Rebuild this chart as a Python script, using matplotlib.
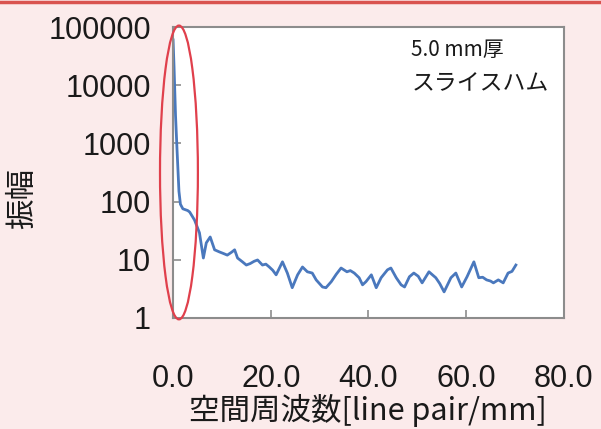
import matplotlib
matplotlib.use('Agg')
import matplotlib.pyplot as plt
from matplotlib.patches import Ellipse
from matplotlib.lines import Line2D

# spatial frequency [line pair/mm] and amplitude
freq = [0.0, 0.2, 0.5, 0.8, 1.2, 1.5, 2.0, 3.0, 3.4, 4.4, 5.4, 6.2, 6.8, 7.6, 8.5, 9.5,
        10.3, 11.1, 12.0, 12.6, 13.2, 14.2, 15.0, 15.8, 16.6, 17.3, 18.3, 19.0, 19.7,
        20.4, 21.1, 22.4, 23.4, 24.4, 25.5, 26.5, 27.5, 28.5, 29.3, 30.6, 31.3, 32.4,
        33.4, 34.4, 35.6, 36.3, 37.1, 38.1, 38.8, 39.5, 40.6, 41.6, 42.6, 43.9, 44.6,
        45.7, 46.7, 47.4, 48.4, 49.3, 50.2, 51.0, 52.4, 53.0, 53.8, 54.6, 55.5, 56.9,
        57.9, 59.1, 60.2, 61.6, 62.6, 63.4, 64.2, 65.0, 65.6, 66.6, 67.6, 68.6, 69.4,
        70.2]
amp = [60000, 20000, 3000, 800, 150, 90, 75, 70, 66, 48, 29, 10.7, 19.5, 24.6, 14.8, 13.6,
       12.8, 12, 13.5, 14.8, 10.7, 9.2, 8.1, 8.6, 9.4, 9.9, 8.1, 8.4, 7.5,
       6.6, 5.5, 9.2, 5.9, 3.3, 5.5, 7.5, 6.2, 5.9, 4.5, 3.4, 3.3, 4.2,
       5.6, 7.2, 6.2, 6.5, 5.9, 4.9, 3.7, 4.2, 5.5, 3.3, 4.9, 6.7, 7.2,
       4.9, 3.7, 3.4, 5.1, 5.9, 5.2, 4.0, 6.2, 5.6, 4.9, 3.9, 2.8, 4.9,
       5.9, 3.4, 5.1, 9.2, 4.9, 5.0, 4.5, 4.3, 4.0, 4.5, 4.0, 5.9, 6.3,
       8.1]

xticks = [0, 20, 40, 60, 80]
xticklabels = ['0.0', '20.0', '40.0', '60.0', '80.0']
yticks = [1, 10, 100, 1000, 10000, 100000]
yticklabels = ['1', '10', '100', '1000', '10000', '100000']

plt.rcParams['font.family'] = ['Liberation Sans', 'Noto Sans CJK JP']
bg = '#fbebeb'
gray = '#8c8c8c'

fig = plt.figure(figsize=(6.01, 4.29), dpi=100, facecolor=bg)
ax = fig.add_axes([0.288, 0.259, 0.65, 0.678])
ax.set_facecolor('white')

ax.plot(freq, amp, color='#4a78bd', lw=2.0)
ax.set_yscale('log')
ax.set_xlim(0, 80)
ax.set_ylim(1, 100000)

ax.set_xticks(xticks)
ax.set_xticklabels(xticklabels)
ax.set_yticks(yticks)
ax.set_yticklabels(yticklabels)
ax.minorticks_off()
ax.tick_params(axis='both', direction='in', length=6, width=1.2, color=gray,
               labelsize=22, labelcolor='#1a1a1a')
ax.tick_params(axis='x', pad=33)
ax.tick_params(axis='y', pad=16)
for s in ax.spines.values():
    s.set_color(gray)
    s.set_linewidth(1.5)

ax.set_xlabel('空間周波数[line pair/mm]', fontsize=22, color='#1a1a1a',
              family=['Noto Sans CJK JP'], labelpad=0)
ax.set_ylabel('振幅', fontsize=22, color='#1a1a1a', family=['Noto Sans CJK JP'])
ax.yaxis.set_label_coords(-0.345, 0.41)

ax.text(0.61, 0.92, '5.0 mm厚', transform=ax.transAxes, fontsize=15,
        family=['Noto Sans CJK JP'], va='center', ha='left', color='#1a1a1a')
ax.text(0.61, 0.805, 'スライスハム', transform=ax.transAxes, fontsize=16.5,
        family=['Noto Sans CJK JP'], va='center', ha='left', color='#1a1a1a')

# red highlight around the low-frequency peak
ell = Ellipse((0.015, 0.5), 0.097, 1.01, transform=ax.transAxes, fill=False,
              edgecolor='#e0404c', lw=1.6, clip_on=False, zorder=5)
ax.add_patch(ell)

# red strip along the top edge
fig.add_artist(Line2D([0, 1], [0.996, 0.996], color='#d9534f', lw=2.5,
                      transform=fig.transFigure))

fig.savefig('out.png', dpi=100, facecolor=bg)
